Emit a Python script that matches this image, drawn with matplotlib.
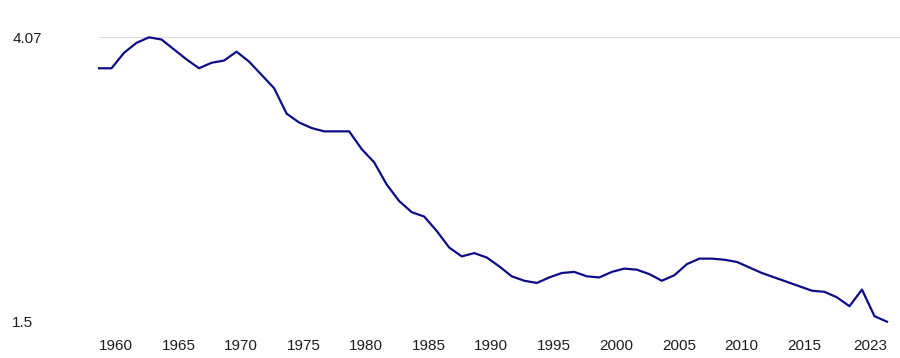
import matplotlib
matplotlib.use("Agg")
from matplotlib import pyplot as plt

# Values
years = list(range(1960, 2024))
values = [
    3.79, 3.79, 3.93, 4.02, 4.07, 4.05, 3.96, 3.87, 3.79, 3.84,
    3.86, 3.94, 3.85, 3.73, 3.61, 3.38, 3.30, 3.25, 3.22, 3.22,
    3.22, 3.06, 2.94, 2.74, 2.59, 2.49, 2.45, 2.32, 2.17, 2.09,
    2.12, 2.08, 2.00, 1.91, 1.87, 1.85, 1.90, 1.94, 1.95, 1.91,
    1.90, 1.95, 1.98, 1.97, 1.93, 1.87, 1.92, 2.02, 2.07, 2.07,
    2.06, 2.04, 1.99, 1.94, 1.90, 1.86, 1.82, 1.78, 1.77, 1.72,
    1.64, 1.79, 1.55, 1.50,
]
x_ticks = [1960, 1965, 1970, 1975, 1980, 1985, 1990, 1995, 2000, 2005, 2010, 2015, 2023]
y_ticks = [1.5, 4.07]

plt.rcParams["font.family"] = ["Liberation Sans", "DejaVu Sans"]

fig = plt.figure(figsize=(9, 3.58), dpi=100)
ax = fig.add_axes([0.11, 1 - 321.7 / 358, 0.89, (321.7 - 37.3) / 358])

ax.plot(years, values, color="#0c0c86", linewidth=1.6, clip_on=False, zorder=3)

ax.set_xlim(1960, 2024.04)
ax.set_ylim(1.5, 4.07)

ax.set_yticks(y_ticks)
ax.set_yticklabels(["1.5", "4.07"])
ax.set_xticks(x_ticks)
ax.set_xticklabels([str(y) for y in x_ticks])

ax.grid(axis="y", color="#dcdcdc", linewidth=0.8)
ax.set_axisbelow(True)
for s in ax.spines.values():
    s.set_visible(False)

ax.tick_params(axis="both", length=0, labelsize=11, labelcolor="#1e1e1e")
ax.tick_params(axis="y", pad=62.5)
ax.tick_params(axis="x", pad=12.5)
for lbl in ax.get_yticklabels():
    lbl.set_horizontalalignment("left")
xl = ax.get_xticklabels()
for lbl in xl:
    lbl.set_horizontalalignment("left")
xl[-1].set_horizontalalignment("right")

fig.savefig("out.png", dpi=100)
